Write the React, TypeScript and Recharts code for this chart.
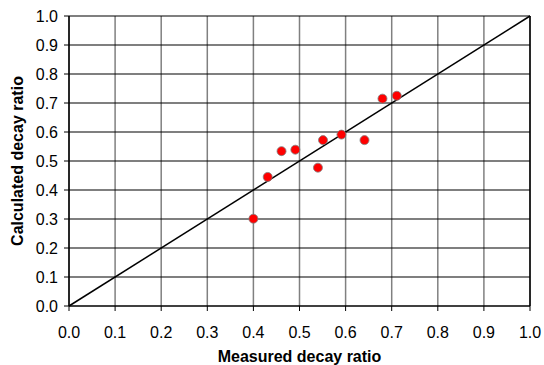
import { ScatterChart, Scatter, XAxis, YAxis, CartesianGrid, ReferenceLine } from 'recharts';

const measured = [0.40, 0.431, 0.461, 0.491, 0.551, 0.540, 0.591, 0.641, 0.680, 0.711];
const calculated = [0.301, 0.445, 0.534, 0.539, 0.572, 0.477, 0.591, 0.572, 0.715, 0.725];
const ticks = [0, 0.1, 0.2, 0.3, 0.4, 0.5, 0.6, 0.7, 0.8, 0.9, 1.0];

const points = measured.map((m, i) => ({ x: m, y: calculated[i] }));

const FONT = 'Liberation Sans, Arial, sans-serif';
const tickStyle = { fontSize: 16, fill: '#000', fontFamily: FONT };
const labelStyle = { fontSize: 16, fontWeight: 'bold', fill: '#000', fontFamily: FONT };

function Dot(props: { cx?: number; cy?: number }) {
  const { cx, cy } = props;
  if (cx == null || cy == null) return null;
  return <circle cx={cx} cy={cy} r={4.5} fill="#ff0000" stroke="#7f7f7f" strokeWidth={0.8} />;
}

export default function App() {
  return (
    <div style={{ position: 'absolute', left: 0, top: 0, width: 544, height: 365, background: '#fff' }}>
      <ScatterChart width={544} height={365} margin={{ top: 16, right: 14, left: 0, bottom: 0 }}>
        <CartesianGrid horizontal={false} stroke="#808080" strokeWidth={1.5} />
        <XAxis
          type="number"
          dataKey="x"
          domain={[0, 1]}
          ticks={ticks}
          tickFormatter={(v: number) => v.toFixed(1)}
          tick={tickStyle}
          tickSize={5}
          tickMargin={16}
          height={59}
          axisLine={{ stroke: '#000', strokeWidth: 1.5 }}
          tickLine={{ stroke: '#000' }}
          label={{ value: 'Measured decay ratio', position: 'insideBottom', offset: 3, style: labelStyle }}
        />
        <YAxis
          type="number"
          dataKey="y"
          domain={[0, 1]}
          ticks={ticks}
          tickFormatter={(v: number) => v.toFixed(1)}
          tick={tickStyle}
          tickSize={5}
          tickMargin={6}
          width={69}
          axisLine={{ stroke: '#000', strokeWidth: 1.5 }}
          tickLine={{ stroke: '#000' }}
          label={{ value: 'Calculated decay ratio', angle: -90, position: 'insideLeft', offset: 17, style: { ...labelStyle, textAnchor: 'middle' } }}
        />
        {ticks.slice(1).map((t) => (
          <ReferenceLine key={t} y={t} stroke="#000" strokeWidth={1.2} />
        ))}
        <ReferenceLine x={1} stroke="#000" strokeWidth={1.5} />
        <ReferenceLine segment={[{ x: 0, y: 0 }, { x: 1, y: 1 }]} stroke="#000" strokeWidth={1.5} />
        <Scatter data={points} shape={<Dot />} isAnimationActive={false} />
      </ScatterChart>
    </div>
  );
}
